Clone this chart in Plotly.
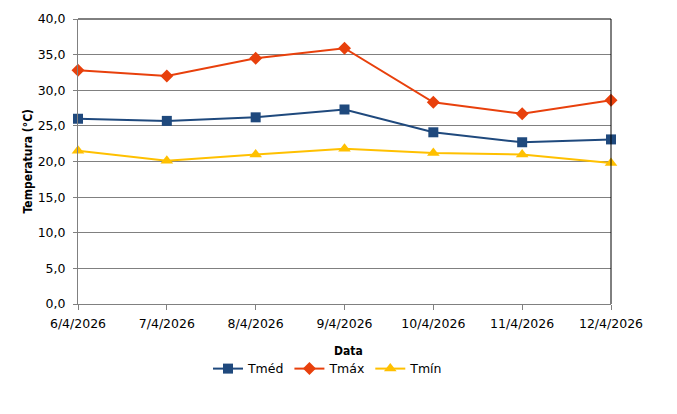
import plotly.graph_objects as go

# Dados
datas = ["6/4/2026", "7/4/2026", "8/4/2026", "9/4/2026", "10/4/2026", "11/4/2026", "12/4/2026"]
tmed = [26.0, 25.7, 26.2, 27.3, 24.1, 22.7, 23.1]
tmax = [32.8, 32.0, 34.5, 35.9, 28.3, 26.7, 28.6]
tmin = [21.5, 20.1, 21.0, 21.8, 21.2, 21.0, 19.8]

y_ticks = [0, 5, 10, 15, 20, 25, 30, 35, 40]
y_labels = ["0,0", "5,0", "10,0", "15,0", "20,0", "25,0", "30,0", "35,0", "40,0"]

FONT = "DejaVu Sans"
BOLD = "DejaVu Sans Condensed"

series = [
    ("Tméd", tmed, "#1F497D", "square", 10),
    ("Tmáx", tmax, "#E8400C", "diamond", 10),
    ("Tmín", tmin, "#FFC000", "triangle-up", 11),
]

fig = go.Figure()
for name, vals, color, symbol, size in series:
    fig.add_trace(go.Scatter(
        x=datas, y=vals, name=name,
        mode="lines+markers",
        line=dict(color=color, width=2),
        marker=dict(symbol=symbol, size=size, color=color),
        cliponaxis=False,
    ))

# a página tem margem de 8px no body, por isso a figura fica 8px menor
fig.update_layout(
    width=669, height=406,
    margin=dict(l=70, r=66, t=11, b=110),
    paper_bgcolor="white", plot_bgcolor="white",
    font=dict(family=FONT, size=12.5, color="black"),
    showlegend=True,
    legend=dict(
        orientation="h", x=0.469, y=-0.228, xanchor="center", yanchor="middle",
        font=dict(family=FONT, size=12.5), itemwidth=30, tracegroupgap=0,
    ),
    xaxis=dict(
        type="category", range=[0, 6], automargin=False,
        showgrid=False, showline=True, linecolor="#808080", linewidth=1,
        ticks="outside", ticklen=5, tickcolor="#808080", ticklabelstandoff=3,
        tickfont=dict(family=FONT, size=12.5),
        zeroline=False,
    ),
    yaxis=dict(
        range=[0, 40], tickvals=y_ticks, ticktext=y_labels, automargin=False,
        showgrid=True, gridcolor="#808080", gridwidth=1,
        showline=True, linecolor="#808080", linewidth=1,
        ticks="outside", ticklen=4, tickcolor="#808080", ticklabelstandoff=5,
        tickfont=dict(family=FONT, size=12.5),
        zeroline=False,
    ),
    shapes=[
        dict(type="line", xref="paper", yref="paper", x0=0, x1=1, y0=1, y1=1,
             line=dict(color="black", width=1)),
        dict(type="line", xref="paper", yref="paper", x0=1, x1=1, y0=0, y1=1,
             line=dict(color="black", width=1)),
    ],
    annotations=[
        dict(text="<b>Data</b>", xref="paper", yref="paper", x=0.508, y=-0.165,
             xanchor="center", yanchor="middle", showarrow=False,
             font=dict(family=BOLD, size=12)),
        dict(text="<b>Temperatura (°C)</b>", xref="paper", yref="paper",
             x=-0.094, y=0.5, xanchor="center", yanchor="middle", textangle=-90,
             showarrow=False, font=dict(family=BOLD, size=12)),
    ],
)

fig.write_html("out.html")
